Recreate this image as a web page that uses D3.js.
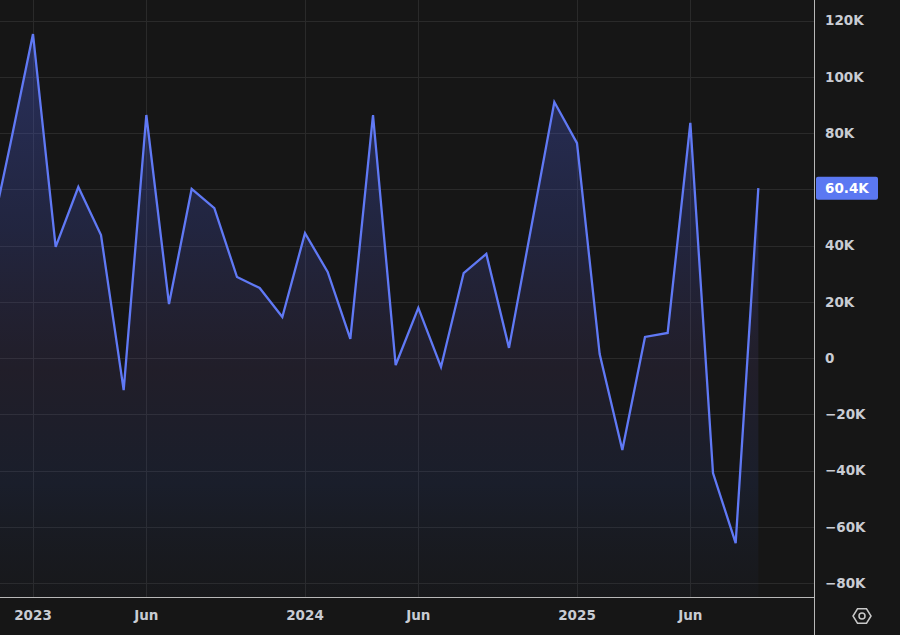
<!DOCTYPE html>
<html>
<head>
<meta charset="utf-8">
<script src="https://cdn.jsdelivr.net/npm/d3@7"></script>
<style>
  html, body { margin: 0; padding: 0; background: #161616; }
  svg { display: block; }
  text { font-family: "DejaVu Sans", Roboto, sans-serif; font-weight: bold; }
</style>
</head>
<body>
<svg id="chart" width="900" height="635"></svg>
<script>
// ---- data (monthly values, thousands) ----
const months = [
  "2022-11","2022-12",
  "2023-01","2023-02","2023-03","2023-04","2023-05","2023-06",
  "2023-07","2023-08","2023-09","2023-10","2023-11","2023-12",
  "2024-01","2024-02","2024-03","2024-04","2024-05","2024-06",
  "2024-07","2024-08","2024-09","2024-10","2024-11","2024-12",
  "2025-01","2025-02","2025-03","2025-04","2025-05","2025-06",
  "2025-07","2025-08","2025-09"
];
const values = [
  38, 76,
  115.2, 39.5, 60.8, 43.7, -11.4, 86.4,
  19.2, 60.1, 53.3, 28.8, 24.9, 14.6,
  44.4, 30.6, 6.8, 86.4, -2.5, 17.8,
  -3.2, 30.2, 37.0, 3.6, 47.3, 91.0,
  76.4, 1.4, -32.7, 7.5, 8.9, 83.6,
  -40.9, -65.8, 60.4
];
const yTicks = [120, 100, 80, 60, 40, 20, 0, -20, -40, -60, -80];
const xTickMonths = ["2023-01","2023-06","2024-01","2024-06","2025-01","2025-06"];
const xTickLabels = ["2023","Jun","2024","Jun","2025","Jun"];
const lastLabel = "60.4K";

// ---- layout ----
const W = 900, H = 635;
const plotRight = 814, plotBottom = 597;
const svg = d3.select("#chart");
const data = months.map((m, i) => ({ month: m, value: values[i] }));

// index-based time axis (equal spacing per month)
const step = 544 / 24;
const x = d3.scalePoint()
  .domain(months)
  .range([33 - 2 * step, 33 + 32 * step]);
const y = d3.scaleLinear().domain([-80, 120]).range([583, 20.5]);

svg.append("rect").attr("width", W).attr("height", H).attr("fill", "#161616");

const defs = svg.append("defs");
defs.append("clipPath").attr("id", "clip")
  .append("rect").attr("x", 0).attr("y", 0).attr("width", plotRight).attr("height", plotBottom);

const grad = defs.append("linearGradient")
  .attr("id", "areaGrad").attr("gradientUnits", "userSpaceOnUse")
  .attr("x1", 0).attr("x2", 0).attr("y1", 30).attr("y2", plotBottom);
grad.append("stop").attr("offset", "0").attr("stop-color", "rgb(75,95,220)").attr("stop-opacity", 0.36);
grad.append("stop").attr("offset", "0.35").attr("stop-color", "rgb(70,85,195)").attr("stop-opacity", 0.24);
grad.append("stop").attr("offset", "0.6").attr("stop-color", "rgb(95,75,150)").attr("stop-opacity", 0.15);
grad.append("stop").attr("offset", "0.8").attr("stop-color", "rgb(50,80,170)").attr("stop-opacity", 0.14);
grad.append("stop").attr("offset", "1").attr("stop-color", "rgb(40,50,80)").attr("stop-opacity", 0.08);

// grid
const grid = svg.append("g");
grid.selectAll("line.h").data(yTicks).join("line")
  .attr("x1", 0).attr("x2", plotRight)
  .attr("y1", d => Math.round(y(d)) + 0.5).attr("y2", d => Math.round(y(d)) + 0.5)
  .attr("stroke", "#2a2a2a").attr("stroke-width", 1);
grid.selectAll("line.v").data(xTickMonths).join("line")
  .attr("x1", d => Math.round(x(d)) + 0.5).attr("x2", d => Math.round(x(d)) + 0.5)
  .attr("y1", 0).attr("y2", plotBottom)
  .attr("stroke", "#2a2a2a").attr("stroke-width", 1);

// area + line
const plot = svg.append("g").attr("clip-path", "url(#clip)");
plot.append("path").datum(data)
  .attr("fill", "url(#areaGrad)")
  .attr("d", d3.area().x(d => x(d.month)).y0(plotBottom).y1(d => y(d.value)));
plot.append("path").datum(data)
  .attr("fill", "none").attr("stroke", "#6079f5").attr("stroke-width", 2.3)
  .attr("stroke-linejoin", "miter")
  .attr("d", d3.line().x(d => x(d.month)).y(d => y(d.value)));

// separators
svg.append("line").attr("x1", plotRight + 0.5).attr("x2", plotRight + 0.5)
  .attr("y1", 0).attr("y2", H).attr("stroke", "#b8b8b8").attr("stroke-width", 1);
svg.append("line").attr("x1", 0).attr("x2", plotRight)
  .attr("y1", plotBottom + 0.5).attr("y2", plotBottom + 0.5).attr("stroke", "#b8b8b8").attr("stroke-width", 1);

// y axis labels (hide the one covered by the last-value badge)
const lastVal = values[values.length - 1];
const lastY = y(lastVal);
const fmt = v => v === 0 ? "0" : (v < 0 ? "\u2212" + Math.abs(v) : v) + "K";
svg.append("g").selectAll("text")
  .data(yTicks.filter(t => Math.abs(y(t) - lastY) > 14))
  .join("text")
  .attr("x", 825).attr("y", d => y(d)).attr("dy", "0.36em")
  .attr("fill", "#c9ccd3").attr("font-size", 13.5)
  .text(fmt);

// last value badge
svg.append("rect").attr("x", 816).attr("y", lastY - 11.5).attr("width", 62).attr("height", 23)
  .attr("rx", 2).attr("fill", "#5b78f2");
svg.append("text").attr("x", 825).attr("y", lastY).attr("dy", "0.36em")
  .attr("fill", "#ffffff").attr("font-size", 13.5)
  .text(lastLabel);

// x axis labels
svg.append("g").selectAll("text").data(xTickMonths).join("text")
  .attr("x", d => x(d)).attr("y", 615).attr("dy", "0.36em")
  .attr("text-anchor", "middle").attr("fill", "#c9ccd3").attr("font-size", 13.5)
  .text((d, i) => xTickLabels[i]);

// settings icon
const cx = 862, cy = 616, r = 9;
const hex = d3.range(6).map(i => {
  const a = Math.PI / 3 * i;
  return [cx + r * Math.cos(a), cy + r * 0.92 * Math.sin(a)];
});
svg.append("path").attr("d", "M" + hex.join("L") + "Z")
  .attr("fill", "none").attr("stroke", "#c8c8c8").attr("stroke-width", 1.5);
svg.append("circle").attr("cx", cx).attr("cy", cy).attr("r", 3)
  .attr("fill", "none").attr("stroke", "#c8c8c8").attr("stroke-width", 1.5);
</script>
</body>
</html>
